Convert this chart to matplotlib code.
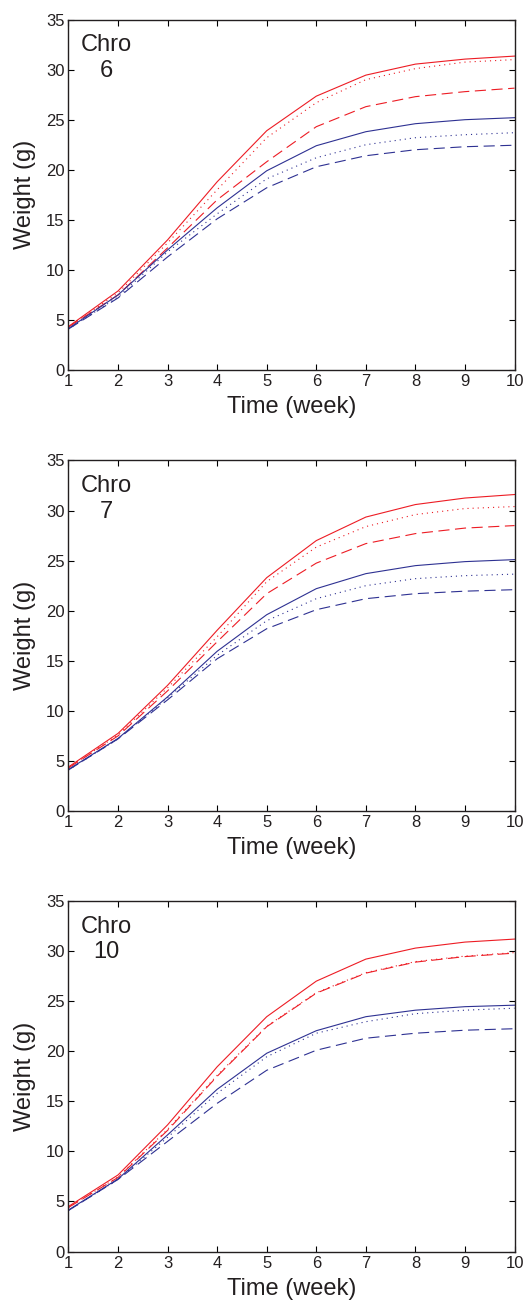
import numpy as np
import matplotlib
matplotlib.use("Agg")
import matplotlib.pyplot as plt

plt.rcParams['font.family'] = ['Liberation Sans', 'DejaVu Sans']

weeks = np.arange(1, 11)
chromosomes = ['6', '7', '10']

# chro 6
c6_red_solid = [4.35, 7.9, 13.0, 18.8, 23.9, 27.35, 29.45, 30.55, 31.05, 31.35]
c6_red_dot = [4.3, 7.7, 12.7, 18.0, 23.2, 26.7, 29.0, 30.1, 30.75, 31.0]
c6_red_dash = [4.3, 7.5, 12.2, 17.0, 20.8, 24.3, 26.3, 27.3, 27.8, 28.15]
c6_blue_solid = [4.15, 7.5, 12.0, 16.2, 19.9, 22.4, 23.8, 24.6, 25.0, 25.2]
c6_blue_dot = [4.1, 7.3, 11.8, 15.6, 19.1, 21.2, 22.5, 23.2, 23.5, 23.7]
c6_blue_dash = [4.1, 7.2, 11.3, 15.1, 18.2, 20.3, 21.4, 22.0, 22.3, 22.45]

# chro 7
c7_red_solid = [4.4, 7.75, 12.55, 18.05, 23.3, 27.0, 29.35, 30.6, 31.25, 31.6]
c7_red_dot = [4.3, 7.6, 12.3, 17.4, 22.9, 26.35, 28.4, 29.6, 30.2, 30.4]
c7_red_dash = [4.3, 7.5, 12.0, 16.9, 21.7, 24.75, 26.7, 27.7, 28.25, 28.5]
c7_blue_solid = [4.15, 7.25, 11.4, 15.95, 19.6, 22.2, 23.7, 24.5, 24.9, 25.1]
c7_blue_dot = [4.1, 7.2, 11.3, 15.55, 19.0, 21.2, 22.5, 23.2, 23.5, 23.65]
c7_blue_dash = [4.1, 7.2, 11.1, 15.2, 18.2, 20.1, 21.2, 21.7, 21.95, 22.1]

# chro 10
c10_red_solid = [4.5, 7.65, 12.65, 18.45, 23.45, 27.0, 29.2, 30.3, 30.9, 31.2]
c10_red_dot = [4.4, 7.45, 12.2, 17.6, 22.5, 25.85, 27.85, 28.95, 29.5, 29.85]
c10_red_dash = [4.4, 7.4, 12.1, 17.5, 22.45, 25.8, 27.8, 28.9, 29.45, 29.8]
c10_blue_solid = [4.15, 7.25, 11.65, 16.2, 19.8, 22.05, 23.45, 24.1, 24.45, 24.6]
c10_blue_dot = [4.1, 7.2, 11.4, 15.8, 19.45, 21.8, 22.95, 23.75, 24.1, 24.3]
c10_blue_dash = [4.1, 7.2, 11.0, 14.8, 18.1, 20.1, 21.3, 21.8, 22.1, 22.25]

panels = [
    [c6_red_solid, c6_red_dot, c6_red_dash, c6_blue_solid, c6_blue_dot, c6_blue_dash],
    [c7_red_solid, c7_red_dot, c7_red_dash, c7_blue_solid, c7_blue_dot, c7_blue_dash],
    [c10_red_solid, c10_red_dot, c10_red_dash, c10_blue_solid, c10_blue_dot, c10_blue_dash],
]

red = '#ed1c24'
blue = '#2e3192'
txt = '#231f20'
styles = [
    (red, '-'), (red, (0, (1, 3.6))), (red, (0, (10, 5))),
    (blue, '-'), (blue, (0, (1, 3.6))), (blue, (0, (10, 5))),
]

fig = plt.figure(figsize=(5.26, 13.03), dpi=100)
bottoms = [0.716, 0.3776, 0.0395]

for i in range(3):
    ax = fig.add_axes([0.1302, bottoms[i], 0.848, 0.269])
    for vals, (col, ls) in zip(panels[i], styles):
        ax.plot(weeks, vals, color=col, ls=ls, lw=0.8)
    ax.set_xlim(1, 10)
    ax.set_ylim(0, 35)
    ax.set_xticks(weeks)
    ax.set_yticks(np.arange(0, 36, 5))
    ax.tick_params(direction='in', top=True, right=True, length=4, width=0.8,
                   labelsize=12, pad=3, labelcolor=txt)
    for sp in ax.spines.values():
        sp.set_linewidth(1.0)
        sp.set_color(txt)
    ax.set_xlabel('Time (week)', fontsize=17, labelpad=5, color=txt)
    ax.set_ylabel('Weight (g)', fontsize=17, color=txt)
    ax.yaxis.set_label_coords(-0.072, 0.5)
    ax.text(1.76, 31.15, 'Chro\n' + chromosomes[i], fontsize=17, ha='center',
            va='center', multialignment='center', color=txt)

fig.savefig('out.png', dpi=100)
